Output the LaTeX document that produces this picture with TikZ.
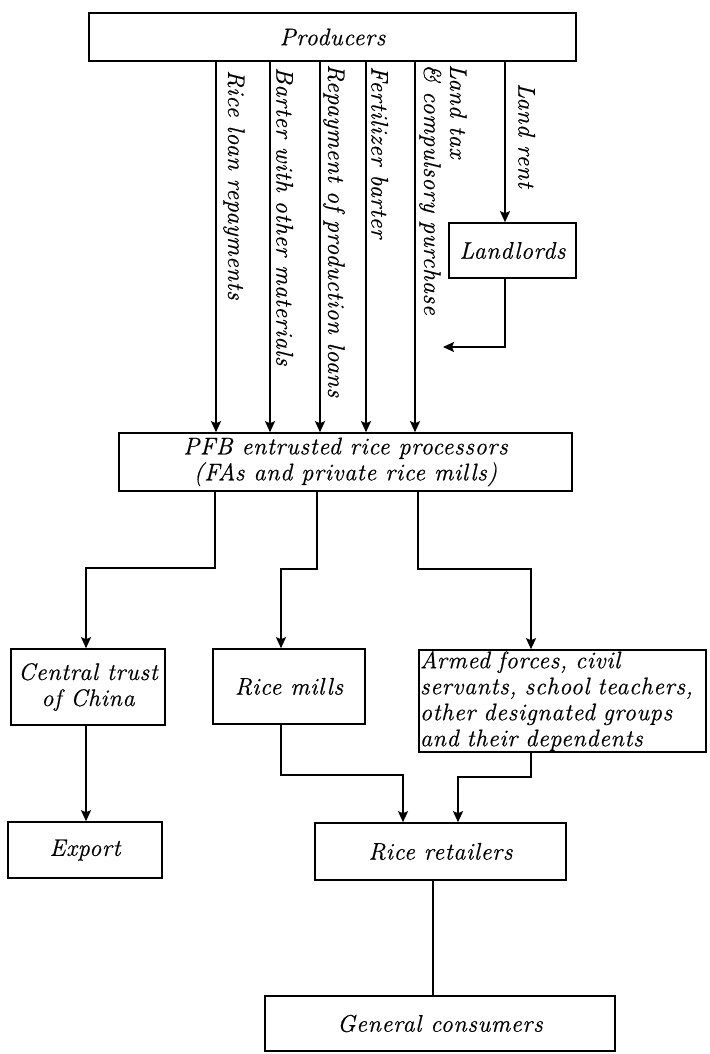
\documentclass[tikz,border=0pt]{standalone}
\usepackage{fontspec}
\setmainfont{Latin Modern Roman}[LetterSpace=3,FakeBold=0.6]
\usetikzlibrary{arrows.meta}
\begin{document}
\begin{tikzpicture}[x=1pt,y=-1pt,
  font=\fontsize{24}{26}\selectfont\itshape,
  box/.style={draw, line width=1.6pt, inner sep=0pt, align=center},
  arr/.style={line width=1.6pt, -{Stealth[length=11pt,width=10pt,inset=2pt]}},
  ln/.style={line width=1.6pt},
  lab/.style={rotate=-90, anchor=south west, inner sep=0pt, align=left}]
\useasboundingbox (0,0) rectangle (709,1054);

% boxes
\node[box, minimum width=487pt, minimum height=48pt] (prod) at (332.5,37) {Producers};
\node[box, minimum width=127pt, minimum height=55pt] (landl) at (512.5,250.5) {Landlords};
\node[box, minimum width=453pt, minimum height=58pt] (pfb) at (345.5,462) {PFB entrusted rice processors\\(FAs and private rice mills)};
\node[box, minimum width=154pt, minimum height=76pt] (ctc) at (88,687) {Central trust\\of China};
\node[box, minimum width=152pt, minimum height=75pt] (mills) at (289,686.5) {Rice mills};
\node[box, text width=285pt, inner sep=1pt, align=left, minimum height=102pt] (armed) at (562.5,701) {Armed forces, civil\\servants, school teachers,\\other designated groups\\and their dependents};
\node[box, minimum width=154pt, minimum height=56pt] (export) at (85,850) {Export};
\node[box, minimum width=251pt, minimum height=57pt] (ret) at (440.5,851.5) {Rice retailers};
\node[box, minimum width=350pt, minimum height=55pt] (gen) at (440,1023.5) {General consumers};

% x positions of the vertical flows
\coordinate (v1) at (216,0);
\coordinate (v2) at (270,0);
\coordinate (v3) at (320,0);
\coordinate (v4) at (366,0);
\coordinate (v5) at (415,0);
\coordinate (v6) at (505,0);

\draw[arr] (prod.south -| v1) -- (pfb.north -| v1);
\draw[arr] (prod.south -| v2) -- (pfb.north -| v2);
\draw[arr] (prod.south -| v3) -- (pfb.north -| v3);
\draw[arr] (prod.south -| v4) -- (pfb.north -| v4);
\draw[arr] (prod.south -| v5) -- (pfb.north -| v5);
\draw[arr] (prod.south -| v6) -- (landl.north -| v6);
\coordinate (lt) at (443,347);
\draw[arr] (landl.south -| v6) |- (lt);

% labels of the vertical flows
\node[lab] (l1) at (223,70) {Rice loan repayments};
\node[lab] (l2) at (276,67) {Barter with other materials};
\node[lab] (l3) at (323,64) {Repayment of production loans};
\node[lab] (l4) at (371,66) {Fertilizer barter};
\node[lab] (l5) at (419,64) {Land tax\\\& compulsory purchase};
\node[lab] (l6) at (518,83) {Land rent};

% PFB outflows
\coordinate (b1) at (215,568);
\coordinate (c1) at (86,0);
\coordinate (b2) at (317,569);
\coordinate (c2) at (281,0);
\coordinate (b3) at (418,569);
\coordinate (c3) at (531,0);
\draw[arr] (pfb.south -| b1) -- (b1) -| (ctc.north -| c1);
\draw[arr] (pfb.south -| b2) -- (b2) -| (mills.north -| c2);
\draw[arr] (pfb.south -| b3) -- (b3) -| (armed.north -| c3);

\draw[arr] (ctc.south -| c1) -- (export.north -| c1);

% to retailers
\coordinate (d1) at (281,775);
\coordinate (e1) at (403,0);
\coordinate (d2) at (531,777);
\coordinate (e2) at (458,0);
\draw[arr] (mills.south -| d1) -- (d1) -| (ret.north -| e1);
\draw[arr] (armed.south -| d2) -- (d2) -| (ret.north -| e2);

\coordinate (f) at (433,0);
\draw[ln] (ret.south -| f) -- (gen.north -| f);
\end{tikzpicture}
\end{document}
